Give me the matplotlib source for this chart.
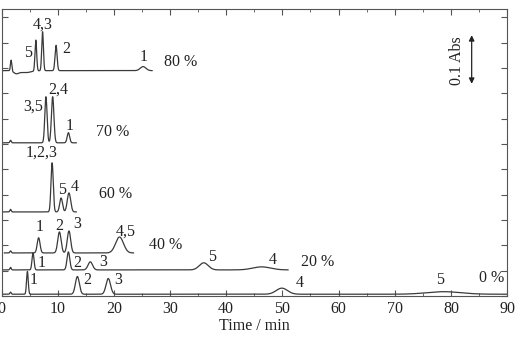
import numpy as np
import matplotlib.pyplot as plt

plt.rcParams['font.family'] = ['Liberation Serif', 'DejaVu Serif']
plt.rcParams['font.size'] = 11.5

# chromatograms: acetonitrile fraction -> baseline offset, x range, peaks (centre, height, sigma)
labels = ['0 %', '20 %', '40 %', '60 %', '70 %', '80 %']
baselines = [0.07, 1.03, 1.70, 3.32, 6.05, 8.90]
x_start = [0.3, 0.3, 0.5, 0.3, 0.3, 0.3]
x_end = [90.0, 51.0, 23.5, 13.3, 13.3, 26.8]

peak_pos = [
    [1.6, 4.6, 13.5, 19.0, 49.9, 78.7],
    [1.6, 5.6, 11.9, 15.8, 36.0, 46.3],
    [1.6, 6.6, 10.3, 12.0, 21.0],
    [1.6, 9.0, 10.6, 12.0],
    [1.6, 7.9, 9.1, 11.9],
    [1.7, 2.6, 4.2, 6.1, 7.3, 9.7, 25.2],
]
peak_h = [
    [0.08, 0.90, 0.70, 0.62, 0.24, 0.10],
    [0.10, 0.67, 0.71, 0.32, 0.28, 0.12],
    [0.08, 0.60, 0.83, 0.87, 0.63],
    [0.10, 1.94, 0.55, 0.75],
    [0.10, 1.82, 1.82, 0.40],
    [0.43, -0.10, -0.08, 1.22, 1.54, 1.00, 0.16],
]
peak_w = [
    [0.12, 0.15, 0.35, 0.40, 1.00, 3.00],
    [0.12, 0.18, 0.25, 0.40, 0.80, 1.60],
    [0.12, 0.25, 0.30, 0.30, 0.70],
    [0.12, 0.20, 0.25, 0.30],
    [0.12, 0.20, 0.22, 0.22],
    [0.12, 0.45, 1.00, 0.15, 0.15, 0.18, 0.50],
]

# peak annotations: (x, y, text)
peak_labels = [
    [(5.8, 0.62, '1'), (15.3, 0.62, '2'), (20.8, 0.62, '3'), (53.1, 0.5, '4'), (78.0, 0.62, '5')],
    [(7.2, 1.30, '1'), (13.5, 1.30, '2'), (18.1, 1.34, '3'), (37.4, 1.54, '5'), (48.3, 1.42, '4')],
    [(6.7, 2.73, '1'), (10.3, 2.77, '2'), (13.4, 2.85, '3'), (22.2, 2.53, '4,5')],
    [(7.2, 5.65, '1,2,3'), (10.7, 4.19, '5'), (13.1, 4.31, '4')],
    [(5.6, 7.47, '3,5'), (10.1, 8.14, '2,4'), (12.1, 6.70, '1')],
    [(4.8, 9.60, '5'), (7.4, 10.71, '4,3'), (11.6, 9.76, '2'), (25.3, 9.45, '1')],
]
label_pos = [(87.2, 0.71), (56.3, 1.34), (29.2, 2.0), (20.3, 4.02), (19.7, 6.48), (31.9, 9.25)]

fig = plt.figure(figsize=(5.19, 3.41), dpi=100)
ax = fig.add_axes([0.003, 0.132, 0.974, 0.842])

lc = '#3a3a3a'
for i in range(len(labels)):
    x = np.linspace(x_start[i], x_end[i], 4000)
    y = np.full_like(x, baselines[i])
    for c, h, s in zip(peak_pos[i], peak_h[i], peak_w[i]):
        y += h * np.exp(-0.5 * ((x - c) / s) ** 2)
    ax.plot(x, y, color=lc, lw=0.9)
    for px, py, t in peak_labels[i]:
        ax.text(px, py, t, ha='center', va='center', color='#222222')
    ax.text(label_pos[i][0], label_pos[i][1], labels[i], ha='center', va='center',
            color='#222222')

# scale bar
ax.annotate('', xy=(83.7, 10.3), xytext=(83.7, 8.38),
            arrowprops=dict(arrowstyle='<|-|>', color='#222222', lw=0.9,
                            mutation_scale=8, shrinkA=0, shrinkB=0))
ax.text(81.0, 9.3, '0.1 Abs', rotation=90, ha='center', va='center', color='#222222')

ax.set_xlim(0, 90)
ax.set_ylim(0, 11.34)
ax.set_xticks(np.arange(0, 91, 10))
ax.set_xticks(np.arange(0, 91, 5), minor=True)
ax.set_yticks(np.arange(0, 12, 1))
ax.set_yticklabels([])
ax.tick_params(axis='both', which='both', direction='in', top=True, right=True,
               colors='#555555', labelcolor='#222222', labelsize=11.5)
ax.tick_params(axis='both', which='major', length=4)
ax.tick_params(axis='both', which='minor', length=2.5)
for sp in ax.spines.values():
    sp.set_color('#555555')
ax.set_xlabel('Time / min', color='#222222', labelpad=1)

fig.savefig('out.png', dpi=100)
